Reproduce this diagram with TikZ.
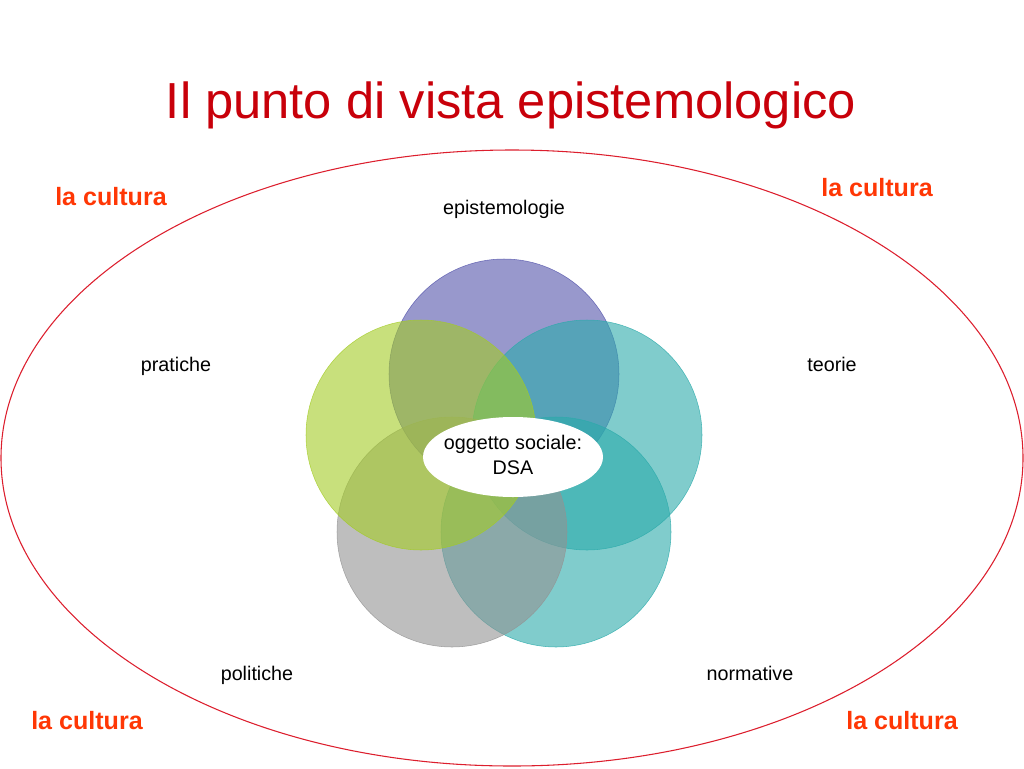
\documentclass[tikz,border=0pt]{standalone}
\usepackage{fontspec}
\setmainfont{Liberation Sans}
\usetikzlibrary{shapes.geometric}

\definecolor{titleRed}{RGB}{200,0,10}
\definecolor{cultureRed}{RGB}{255,55,5}
\definecolor{ovalRed}{RGB}{220,30,45}
\definecolor{episColor}{RGB}{83,83,170}
\definecolor{teoColor}{RGB}{43,170,170}
\definecolor{norColor}{RGB}{43,170,170}
\definecolor{polColor}{RGB}{147,147,147}
\definecolor{praColor}{RGB}{163,203,37}

\tikzset{
  title text/.style={text=titleRed, font=\fontsize{38}{44}\selectfont, inner sep=0pt},
  culture text/.style={text=cultureRed, font=\fontsize{18.8}{22}\selectfont\bfseries, inner sep=0pt},
  field text/.style={font=\fontsize{14.8}{18.75}\selectfont, inner sep=0pt},
  center oval/.style={ellipse, fill=white, inner sep=0pt,
    minimum width=135pt, minimum height=60pt}
}

\begin{document}
\begin{tikzpicture}[x=0.75pt,y=-0.75pt]
        % Fix the page to the slide
        \useasboundingbox (0,0) rectangle (1024,768);
        % Title
        \node[title text, anchor=base] (title) at (511,118) {Il punto di vista epistemologico};
        % Draw the culture oval
        \coordinate (mid) at (512,458);
        \draw[ovalRed, line width=0.8pt] (mid) ellipse [x radius=511, y radius=308];
        % Put the culture labels in the corners
        \foreach \name/\x/\y in {culA/111/205, culB/877/196, culC/87/729, culD/902/729}
          \node[culture text, anchor=base] (\name) at (\x,\y) {la cultura};
        % Draw the five circles
        \foreach \name/\x/\y/\col in {epi/504/374/episColor, teo/587/435/teoColor,
                                     nor/556/532/norColor, pol/452/532/polColor, pra/421/435/praColor} {
          \coordinate (\name) at (\x,\y);
          \filldraw[fill=\col, draw=\col, fill opacity=0.6, draw opacity=0.8, line width=0.4pt]
            (\name) circle [radius=115];
        }
        % Add the names of the circles
        \node[field text, anchor=base] (epiText) at (504,214) {epistemologie};
        \node[field text, anchor=base] (teoText) at (832,371) {teorie};
        \node[field text, anchor=base] (praText) at (176,371) {pratiche};
        \node[field text, anchor=base] (polText) at (257,680) {politiche};
        \node[field text, anchor=base] (norText) at (750,680) {normative};
        % Object in the middle
        \node[center oval] (dsa) at (513,457) {};
        \node[field text, align=center] (dsaText) at (513,454.5) {oggetto sociale:\\DSA};
    \end{tikzpicture}
\end{document}
